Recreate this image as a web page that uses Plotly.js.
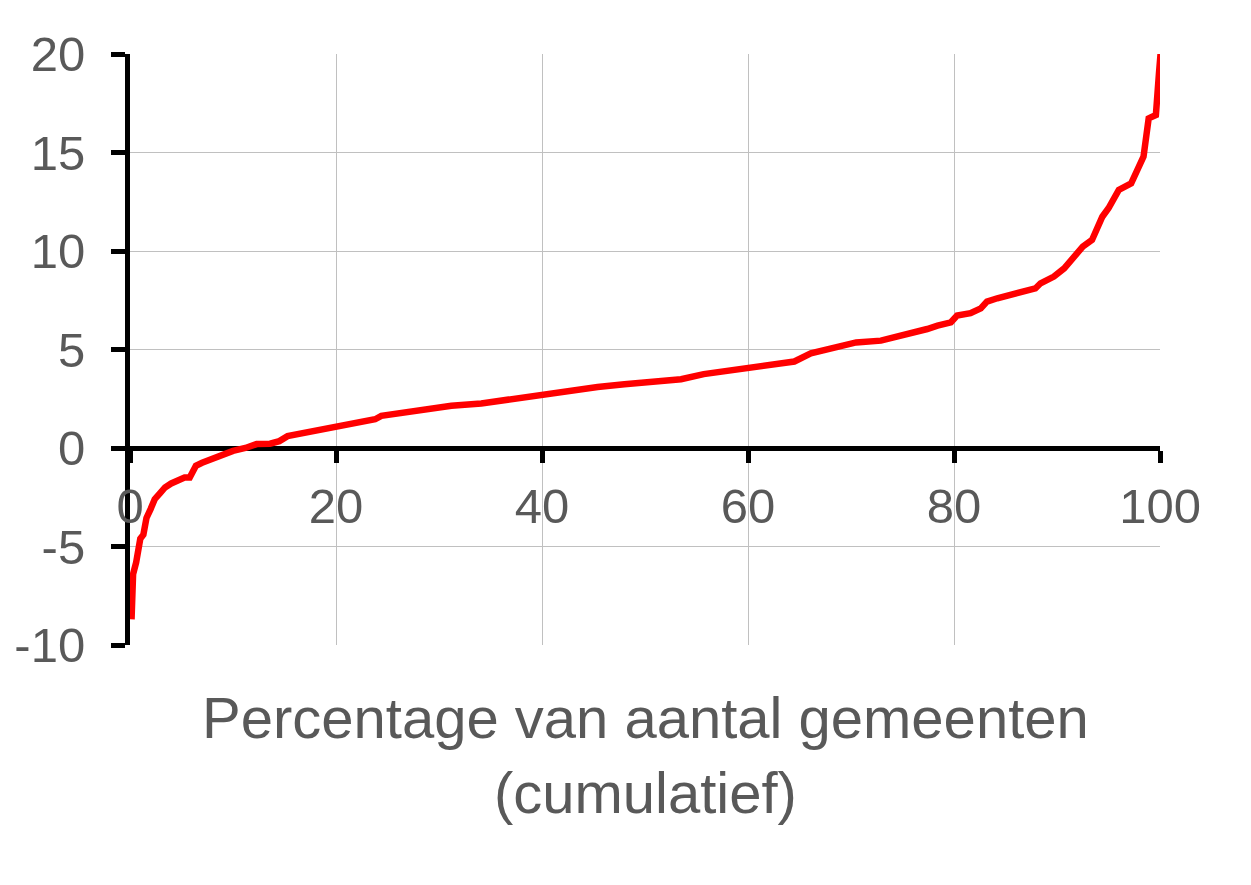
<!DOCTYPE html>
<html>
<head>
<meta charset="utf-8">
<script src="https://cdn.plot.ly/plotly-3.0.1.min.js"></script>
<style>
  html, body { margin: 0; padding: 0; background: #ffffff; }
  #chart { width: 1251px; height: 885px; }
</style>
</head>
<body>
<div id="chart"></div>
<script>
// Cumulative percentage of municipalities (x) vs. value (y)
const pctGemeenten = [0.15, 0.3, 0.6, 1.0, 1.3, 1.6, 2.0, 2.4, 2.9, 3.4, 4.0, 4.7, 5.3, 5.8, 6.1, 6.4, 7.0, 7.8, 8.8, 10.0,
  11.2, 12.3, 13.6, 14.5, 15.3, 16.6, 18.0, 19.5, 21.5, 23.8, 24.4, 26.7, 29.2, 31.2, 34.1, 36.3, 40.0, 42.8, 45.4, 48.0,
  50.5, 53.5, 55.7, 58.0, 60.0, 62.5, 64.5, 66.1, 68.0, 69.6, 70.5, 72.9, 74.8, 77.4, 78.4, 79.7, 80.3, 81.6, 82.6, 83.2,
  84.2, 85.8, 86.8, 87.9, 88.4, 89.7, 90.7, 92.0, 92.5, 93.4, 93.9, 94.4, 95.0, 96.0, 97.2, 97.8, 98.4, 98.9, 99.6, 99.9, 100.1];
const waarde = [-8.7, -6.4, -5.8, -4.6, -4.4, -3.55, -3.1, -2.6, -2.3, -2.0, -1.8, -1.6, -1.5, -1.5, -1.2, -0.9, -0.75, -0.57, -0.4, -0.15,
  0.0, 0.2, 0.22, 0.35, 0.6, 0.73, 0.85, 1.03, 1.26, 1.46, 1.63, 1.8, 2.05, 2.14, 2.26, 2.43, 2.73, 2.9, 3.1, 3.24,
  3.37, 3.49, 3.75, 3.92, 4.05, 4.22, 4.39, 4.8, 5.02, 5.19, 5.36, 5.45, 5.67, 6.04, 6.21, 6.38, 6.72, 6.84, 7.09, 7.43,
  7.6, 7.85, 7.94, 8.1, 8.36, 8.7, 9.12, 9.88, 10.22, 10.56, 11.24, 11.74, 12.17, 13.1, 13.43, 14.1, 14.79, 16.73, 16.9, 19.02, 20.3];
const xTicks = [0, 20, 40, 60, 80, 100];
const yTicks = [-10, -5, 0, 5, 10, 15, 20];
const xTitle = "Percentage van aantal gemeenten<br>(cumulatief)";

const fontFam = "Liberation Sans, Arial, sans-serif";
const textColor = "#595959";

const trace = {
  x: pctGemeenten,
  y: waarde,
  type: "scatter",
  mode: "lines",
  line: { color: "#ff0000", width: 6.5 },
  hoverinfo: "x+y"
};

const layout = {
  width: 1251,
  height: 885,
  margin: { l: 130, r: 91, t: 54, b: 240, pad: 0 },
  paper_bgcolor: "#ffffff",
  plot_bgcolor: "#ffffff",
  showlegend: false,
  font: { family: fontFam, color: textColor },
  xaxis: {
    range: [0, 100],
    tickvals: xTicks,
    ticktext: xTicks.map(String),
    anchor: "free",
    position: 1 / 3,
    showgrid: true,
    gridcolor: "#c0c0c0",
    gridwidth: 1,
    zeroline: false,
    showline: true,
    linecolor: "#000000",
    linewidth: 5,
    ticks: "outside",
    ticklen: 12,
    tickwidth: 5,
    tickcolor: "#000000",
    ticklabelstandoff: 1,
    tickfont: { family: fontFam, size: 49, color: textColor },
    layer: "below traces",
    fixedrange: true
  },
  yaxis: {
    range: [-10, 20],
    tickvals: yTicks,
    ticktext: yTicks.map(String),
    showgrid: true,
    gridcolor: "#c0c0c0",
    gridwidth: 1,
    zeroline: false,
    showline: true,
    linecolor: "#000000",
    linewidth: 5,
    ticks: "outside",
    ticklen: 14,
    tickwidth: 5,
    tickcolor: "#000000",
    ticklabelstandoff: 16,
    tickfont: { family: fontFam, size: 49, color: textColor },
    layer: "below traces",
    fixedrange: true
  },
  annotations: [{
    text: xTitle,
    xref: "paper",
    yref: "paper",
    x: 0.5,
    y: -0.186,
    xanchor: "center",
    yanchor: "middle",
    showarrow: false,
    font: { family: fontFam, size: 58, color: textColor }
  }]
};

Plotly.newPlot("chart", [trace], layout, { displayModeBar: false, staticPlot: true });
</script>
</body>
</html>
